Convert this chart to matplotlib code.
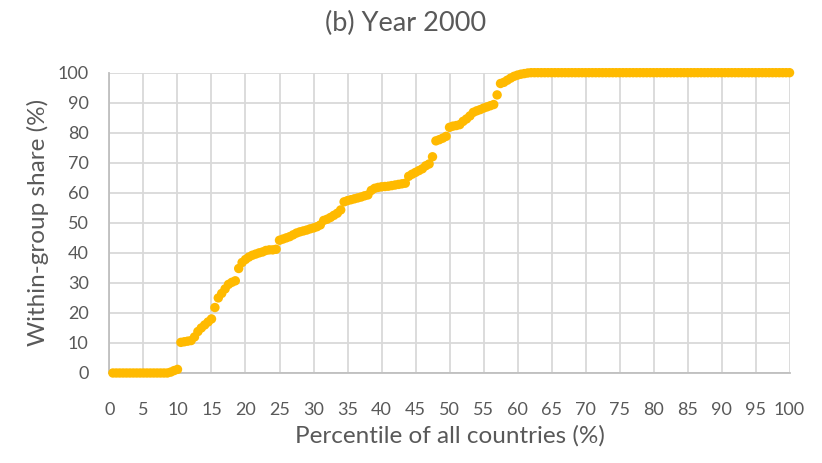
import matplotlib
matplotlib.use("Agg")
import matplotlib.pyplot as plt
import numpy as np

# Percentile of all countries (%)
percentile = [
    0.5, 1.0, 1.5, 2.0, 2.5, 3.0, 3.5, 4.0, 4.5, 5.0,
    5.5, 6.0, 6.5, 7.0, 7.5, 8.0, 8.5, 9.0, 9.5, 10.0,
    10.5, 11.0, 11.5, 12.0, 12.5, 13.0, 13.5, 14.0, 14.5, 15.0,
    15.5, 16.0, 16.5, 17.0, 17.5, 18.0, 18.5, 19.0, 19.5, 20.0,
    20.5, 21.0, 21.5, 22.0, 22.5, 23.0, 23.5, 24.0, 24.5, 25.0,
    25.5, 26.0, 26.5, 27.0, 27.5, 28.0, 28.5, 29.0, 29.5, 30.0,
    30.5, 31.0, 31.5, 32.0, 32.5, 33.0, 33.5, 34.0, 34.5, 35.0,
    35.5, 36.0, 36.5, 37.0, 37.5, 38.0, 38.5, 39.0, 39.5, 40.0,
    40.5, 41.0, 41.5, 42.0, 42.5, 43.0, 43.5, 44.0, 44.5, 45.0,
    45.5, 46.0, 46.5, 47.0, 47.5, 48.0, 48.5, 49.0, 49.5, 50.0,
    50.5, 51.0, 51.5, 52.0, 52.5, 53.0, 53.5, 54.0, 54.5, 55.0,
    55.5, 56.0, 56.5, 57.0, 57.5, 58.0, 58.5, 59.0, 59.5, 60.0,
    60.5, 61.0, 61.5, 62.0, 62.5, 63.0, 63.5, 64.0, 64.5, 65.0,
    65.5, 66.0, 66.5, 67.0, 67.5, 68.0, 68.5, 69.0, 69.5, 70.0,
    70.5, 71.0, 71.5, 72.0, 72.5, 73.0, 73.5, 74.0, 74.5, 75.0,
    75.5, 76.0, 76.5, 77.0, 77.5, 78.0, 78.5, 79.0, 79.5, 80.0,
    80.5, 81.0, 81.5, 82.0, 82.5, 83.0, 83.5, 84.0, 84.5, 85.0,
    85.5, 86.0, 86.5, 87.0, 87.5, 88.0, 88.5, 89.0, 89.5, 90.0,
    90.5, 91.0, 91.5, 92.0, 92.5, 93.0, 93.5, 94.0, 94.5, 95.0,
    95.5, 96.0, 96.5, 97.0, 97.5, 98.0, 98.5, 99.0, 99.5, 100.0,
]

# Within-group share (%)
share = [
    0, 0, 0, 0, 0, 0, 0, 0, 0, 0,
    0, 0, 0, 0, 0, 0, 0, 0.3, 0.8, 1.2,
    10.2, 10.4, 10.6, 10.8, 12.0, 13.8, 15.0, 16.0, 17.0, 18.0,
    21.8, 25.0, 26.5, 28.0, 29.5, 30.2, 30.7, 34.8, 36.8, 37.8,
    38.6, 39.2, 39.6, 40.0, 40.3, 40.8, 41.0, 41.0, 41.2, 44.2,
    44.6, 45.0, 45.4, 46.0, 46.6, 47.0, 47.3, 47.6, 48.0, 48.3,
    48.7, 49.3, 50.8, 51.2, 51.8, 52.5, 53.2, 54.3, 57.0, 57.4,
    57.7, 58.0, 58.3, 58.6, 59.0, 59.3, 60.8, 61.5, 61.8, 62.0,
    62.1, 62.2, 62.4, 62.6, 62.8, 63.0, 63.2, 65.5, 66.2, 66.8,
    67.4, 68.0, 69.0, 69.6, 72.0, 77.3, 77.7, 78.2, 78.8, 81.8,
    82.2, 82.4, 82.7, 83.8, 84.6, 85.6, 86.8, 87.3, 87.7, 88.2,
    88.6, 89.0, 89.4, 92.6, 96.4, 96.8, 97.5, 98.2, 98.8, 99.2,
    99.5, 99.7, 99.9, 100, 100, 100, 100, 100, 100, 100,
    100, 100, 100, 100, 100, 100, 100, 100, 100, 100,
    100, 100, 100, 100, 100, 100, 100, 100, 100, 100,
    100, 100, 100, 100, 100, 100, 100, 100, 100, 100,
    100, 100, 100, 100, 100, 100, 100, 100, 100, 100,
    100, 100, 100, 100, 100, 100, 100, 100, 100, 100,
    100, 100, 100, 100, 100, 100, 100, 100, 100, 100,
    100, 100, 100, 100, 100, 100, 100, 100, 100, 100,
]

x_ticks = list(range(0, 101, 5))
y_ticks = list(range(0, 101, 10))

title = "(b) Year 2000"
x_label = "Percentile of all countries (%)"
y_label = "Within-group share (%)"

plt.rcParams['font.family'] = ['Lato', 'DejaVu Sans']

fig = plt.figure(figsize=(8.22, 4.63), dpi=100)
ax = fig.add_axes([0.1332, 0.1944, 0.8273, 0.6486])

ax.scatter(percentile, share, s=46, color='#FFBA00', edgecolors='none',
           zorder=3, clip_on=False)

ax.set_xlim(0, 100)
ax.set_ylim(0, 100)
ax.set_xticks(x_ticks)
ax.set_yticks(y_ticks)
ax.set_xticklabels([str(t) for t in x_ticks])
ax.set_yticklabels([str(t) for t in y_ticks])

ax.grid(True, color='#D9D9D9', linewidth=1.3, zorder=0)
ax.set_axisbelow(True)
for s in ['top', 'right']:
    ax.spines[s].set_visible(False)
for s in ['left', 'bottom']:
    ax.spines[s].set_color('#BFBFBF')
    ax.spines[s].set_linewidth(1.3)

ax.tick_params(axis='both', length=0, labelsize=13, labelcolor='#595959')
ax.tick_params(axis='x', pad=21)
ax.tick_params(axis='y', pad=15)

ax.set_xlabel(x_label, fontsize=17.5, color='#595959', labelpad=5)
ax.set_ylabel(y_label, fontsize=17.5, color='#595959', labelpad=6)
fig.text(0.493, 0.950, title, ha='center', va='center', fontsize=19.5, color='#595959')

fig.savefig("out.png", dpi=100)
